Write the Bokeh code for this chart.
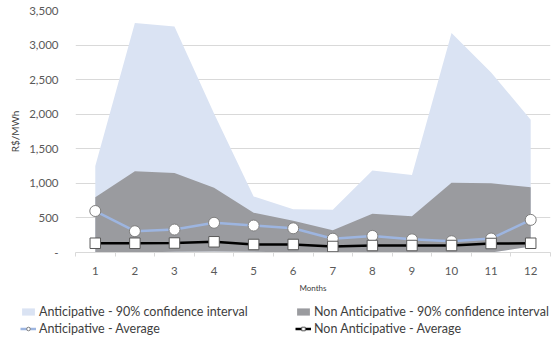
from bokeh.plotting import figure
from bokeh.layouts import column
from bokeh.models import (Legend, LegendItem, FixedTicker, CustomJSTickFormatter,
                          Range1d, ColumnDataSource)
from bokeh.embed import file_html
from bokeh.resources import INLINE

# Monthly price statistics (R$/MWh)
months = list(range(1, 13))
ant_upper = [1250, 3320, 3270, 2010, 810, 625, 620, 1185, 1120, 3175, 2605, 1920]
ant_lower = [0, 0, 10, 15, 10, 0, 0, 0, 0, 0, 0, 85]
non_upper = [800, 1175, 1150, 935, 575, 460, 320, 560, 525, 1010, 1000, 945]
non_lower = [0, 0, 10, 15, 10, 0, 0, 0, 0, 0, 0, 85]
ant_avg = [600, 308, 332, 430, 390, 350, 200, 240, 190, 163, 202, 472]
non_avg = [134, 134, 137, 155, 116, 116, 87, 101, 101, 101, 130, 134]
y_ticks = [0, 500, 1000, 1500, 2000, 2500, 3000, 3500]

labels = ["Anticipative - 90% confidence interval",
          "Non Anticipative - 90% confidence interval",
          "Anticipative - Average",
          "Non Anticipative - Average"]

src = ColumnDataSource(dict(m=months, au=ant_upper, al=ant_lower,
                            nu=non_upper, nl=non_lower,
                            aa=ant_avg, na=non_avg))

FONT = "Lato"
TXT = "#404040"
TICK = "#595959"

BAND_A = dict(fill_color="#dae3f3")
BAND_N = dict(fill_color="#9a9b9f")
LINE_A = dict(line_color="#9db5e0", line_width=2.5)
MARK_A = dict(marker="circle", size=11, fill_color="white",
              line_color="#7f7f7f", line_width=1)
LINE_N = dict(line_color="black", line_width=2.5)
MARK_N = dict(marker="square", size=10.5, fill_color="white",
              line_color="#595959", line_width=1)

p = figure(width=558, height=295, output_backend="svg", toolbar_location=None,
           x_range=Range1d(0.5, 12.5), y_range=Range1d(0, 3500),
           min_border_left=75, min_border_right=8, min_border_top=10,
           min_border_bottom=43)
p.outline_line_color = None
p.background_fill_color = "white"
p.border_fill_color = "white"

# grid
p.xgrid.grid_line_color = None
p.ygrid.grid_line_color = "#d9d9d9"
p.ygrid.grid_line_width = 1
p.yaxis.ticker = FixedTicker(ticks=y_ticks)

# y axis
p.yaxis.axis_line_color = None
p.yaxis.major_tick_line_color = None
p.yaxis.minor_tick_line_color = None
p.yaxis.formatter = CustomJSTickFormatter(
    code="return tick == 0 ? '-' : tick.toLocaleString('en-US');")
p.yaxis.major_label_text_font = FONT
p.yaxis.major_label_text_font_size = "11.5px"
p.yaxis.major_label_text_color = TICK
p.yaxis.major_label_standoff = 11
p.yaxis.axis_label = "R$/MWh"
p.yaxis.axis_label_text_font = FONT
p.yaxis.axis_label_text_font_size = "10px"
p.yaxis.axis_label_text_font_style = "normal"
p.yaxis.axis_label_text_color = TXT
p.yaxis.axis_label_standoff = 5

# x axis: labels at category centres, ticks on the boundaries
p.xaxis.ticker = FixedTicker(ticks=months,
                             minor_ticks=[m - 0.5 for m in months] + [12.5])
p.xaxis.axis_line_color = "#d9d9d9"
p.xaxis.major_tick_line_color = None
p.xaxis.minor_tick_line_color = "#d9d9d9"
p.xaxis.minor_tick_in = 0
p.xaxis.minor_tick_out = 4
p.xaxis.major_label_text_font = FONT
p.xaxis.major_label_text_font_size = "11.5px"
p.xaxis.major_label_text_color = TICK
p.xaxis.major_label_standoff = 8
p.xaxis.axis_label = "Months"
p.xaxis.axis_label_text_font = FONT
p.xaxis.axis_label_text_font_size = "8px"
p.xaxis.axis_label_text_font_style = "normal"
p.xaxis.axis_label_text_color = TXT
p.xaxis.axis_label_standoff = 5

# confidence bands
p.varea(x="m", y1="al", y2="au", source=src, **BAND_A)
p.varea(x="m", y1="nl", y2="nu", source=src, **BAND_N)

# averages
p.line(x="m", y="aa", source=src, **LINE_A)
p.scatter(x="m", y="aa", source=src, **MARK_A)
p.line(x="m", y="na", source=src, **LINE_N)
p.scatter(x="m", y="na", source=src, **MARK_N)

# legend strip under the chart; its swatch renderers sit outside the view
lg = figure(width=558, height=43, output_backend="svg", toolbar_location=None,
            x_range=Range1d(0, 1), y_range=Range1d(0, 1),
            x_axis_location=None, y_axis_location=None,
            min_border=0)
lg.frame_align = False
lg.outline_line_color = None
lg.grid.visible = False
offview = ColumnDataSource(dict(x=[-10, -9], y1=[-10, -10], y2=[-9, -9]))
r_ba = lg.varea(x="x", y1="y1", y2="y2", source=offview, **BAND_A)
r_bn = lg.varea(x="x", y1="y1", y2="y2", source=offview, **BAND_N)
r_la = lg.line(x="x", y="y1", source=offview, **LINE_A)
r_ma = lg.scatter(x="x", y="y1", source=offview, **dict(MARK_A, size=7))
r_ln = lg.line(x="x", y="y1", source=offview, **LINE_N)
r_mn = lg.scatter(x="x", y="y1", source=offview, **dict(MARK_N, size=7))

# column-major fill: first column holds the anticipative entries
legend = Legend(items=[
    LegendItem(label=labels[0], renderers=[r_ba]),
    LegendItem(label=labels[2], renderers=[r_la, r_ma]),
    LegendItem(label=labels[1], renderers=[r_bn]),
    LegendItem(label=labels[3], renderers=[r_ln, r_mn]),
], ncols=2)
legend.border_line_color = None
legend.background_fill_alpha = 0
legend.label_text_font = FONT
legend.label_text_font_size = "12.5px"
legend.label_text_color = TXT
legend.glyph_width = 16
legend.glyph_height = 9
legend.label_height = 14
legend.label_width = 254
legend.label_standoff = 3
legend.spacing = 2
legend.padding = 0
legend.margin = 0
legend.location = (20, 2)
lg.add_layout(legend, "center")

page = column(p, lg, spacing=0)
open("out.html", "w").write(file_html(page, INLINE))
